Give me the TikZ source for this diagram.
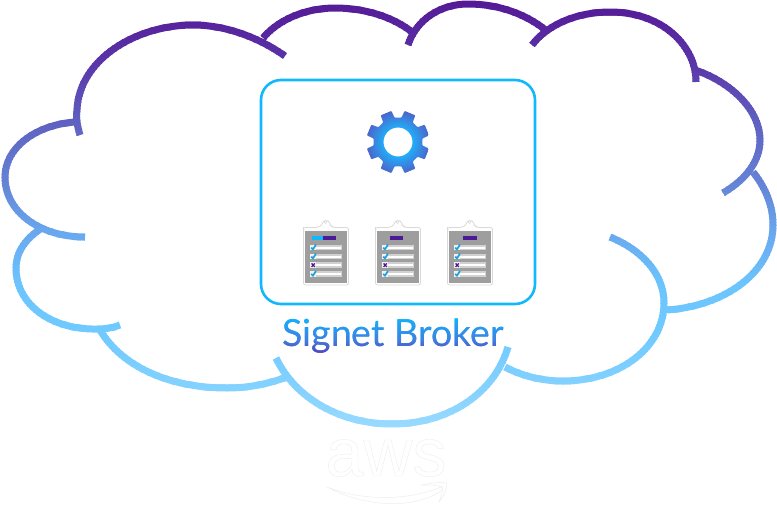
\documentclass[tikz,border=0pt]{standalone}
\usepackage{fontspec}
\setmainfont{Lato}
\newfontfamily\awsfont{Liberation Sans}
\definecolor{cA}{HTML}{551A96}
\definecolor{cB}{HTML}{5A34A8}
\definecolor{cC}{HTML}{5F60C0}
\definecolor{cD}{HTML}{6482D5}
\definecolor{cE}{HTML}{69A8EE}
\definecolor{cF}{HTML}{6CC4FD}
\definecolor{cG}{HTML}{6FCAFF}
\definecolor{cH}{HTML}{85D2FF}
\definecolor{cI}{HTML}{9DDCFF}
\definecolor{boxblue}{HTML}{12B8FB}
\definecolor{txtTop}{HTML}{10B4FF}
\definecolor{txtMid}{HTML}{3E7FE0}
\definecolor{txtBot}{HTML}{5A2FAE}
\definecolor{purp}{HTML}{4B1A96}
\definecolor{chk}{HTML}{1BA3DF}
\definecolor{gearIn}{HTML}{22ACF8}
\definecolor{gearOut}{HTML}{4A68CC}
\pgfdeclareradialshading{gearshade}{\pgfpoint{0bp}{0bp}}{color(0bp)=(gearIn); color(11.5bp)=(gearIn); color(25bp)=(gearOut); color(50bp)=(gearOut)}
\tikzset{
  arcline/.style={line width=7pt,line cap=butt,draw=bandc},
  brokerbox/.style={draw=boxblue,line width=2.6pt,rounded corners=20pt},
  awsedge/.style={fill=white,draw=black!7,line width=.5pt},
  clipedge/.style={draw=black!15,line width=.8pt,fill=white},
  brokerlabel/.style={inner sep=0pt,font=\fontsize{37.4}{42}\selectfont,text=bandc}
}
\newcommand{\cloudarcs}{%
  \draw[arcline] (80,135) .. controls (77,125) and (76,118) .. (77,110) .. controls (79,60) and (135,25) .. (193,25) .. controls (225,25) and (258,37) .. (285,56);
  \draw[arcline] (75,122) .. controls (35,125) and (5,148) .. (5,177) .. controls (5,212) and (40,237) .. (85,237);
  \draw[arcline] (42,228) .. controls (26,238) and (16,252) .. (16,268) .. controls (16,305) and (52,330) .. (97,329) .. controls (105,329) and (113,328) .. (120,325);
  \draw[arcline] (100,330) .. controls (122,367) and (170,388) .. (227,388) .. controls (248,388) and (268,384) .. (287,377);
  \draw[arcline] (276,358) .. controls (295,398) and (340,424) .. (392,424) .. controls (450,424) and (495,392) .. (508,347);
  \draw[arcline] (505,367) .. controls (522,376) and (542,381) .. (563,381) .. controls (620,381) and (664,347) .. (664,303) .. controls (664,274) and (642,250) .. (610,237);
  \draw[arcline] (667,310) .. controls (725,306) and (773,272) .. (773,225) .. controls (773,205) and (765,187) .. (753,172);
  \draw[arcline] (695,70) .. controls (731,82) and (760,110) .. (760,140) .. controls (760,162) and (745,180) .. (723,193);
  \draw[arcline] (696,82) .. controls (696,75) and (695,70) .. (693,63) .. controls (682,32) and (650,12) .. (610,12) .. controls (578,12) and (548,24) .. (532,45);
  \draw[arcline] (408,45) .. controls (416,20) and (440,4) .. (468,4) .. controls (500,4) and (528,15) .. (548,32);
  \draw[arcline] (263,38) .. controls (278,20) and (305,8) .. (335,8) .. controls (365,8) and (393,17) .. (412,32);
}
\newcommand{\checkrow}[2]{%
  \fill[black!18] (6.5,#1-3) rectangle (38.7,#1+2.6);
  \fill[white] (13,#1-1.2) rectangle (38.2,#1+.9);
  \fill[black!5] (7,#1-3) rectangle (13,#1+2.6);
  #2
}
\newcommand{\tick}[1]{\draw[chk,line width=1.7pt] (8.2,#1) -- (10,#1+1.6) -- (13,#1-3.2);}
\newcommand{\cross}[1]{\draw[purp,line width=1.3pt] (8.6,#1-1.9) -- (11.8,#1+1.6) (8.6,#1+1.6) -- (11.8,#1-1.9);}
\newcommand{\clipboard}[2]{%
  \begin{scope}[shift={(#1,219)}]
    \path[clipedge] (.5,10) [rounded corners=2pt] -- (.5,66) -- (45.5,66) -- (45.5,8.5) -- (30,8.5)
       -- (27,6) [sharp corners] .. controls (26,0.5) and (19.5,0.5) .. (18.5,6) [rounded corners=2pt] -- (15,8.5) -- (.5,8.5) -- cycle;
    \draw[black!15,line width=.6pt] (22.5,3) circle (1.5pt);
    \fill[black!38] (2,12) rectangle (44,64);
    #2
    \checkrow{28.7}{\tick{28.7}}
    \checkrow{37.7}{\tick{37.7}}
    \checkrow{46.3}{\cross{46.3}}
    \checkrow{55}{\tick{55}}
  \end{scope}
}
\begin{document}
\begin{tikzpicture}[x=1pt,y=-1pt]
\useasboundingbox (0,0) rectangle (777,512);
% cloud with a vertical colour gradient
\foreach \ca/\cb/\ya/\nn in {cA/cB/0/20,cB/cC/60/20,cC/cD/120/20,cD/cE/180/17,cE/cF/231/17,cF/cG/282/16,cG/cH/330/20,cH/cI/390/14}{
  \foreach \kk in {1,...,\nn}{
    \pgfmathsetmacro{\yy}{\ya+3*(\kk-1)}
    \pgfmathtruncatemacro{\pct}{100*(\kk-1)/\nn}
    \colorlet{bandc}{\cb!\pct!\ca}
    \begin{scope}
      \clip (-5,\yy) rectangle (782,\yy+3.6);
      \cloudarcs
    \end{scope}
  }
}
% broker box
\draw[brokerbox] (261,80) rectangle (535,304);
% gear
\begin{scope}[shift={(398,142)}]
  \path[shading=gearshade,even odd rule,rounded corners=.8pt]
    (0:24.5)
    \foreach \a in {22.5,67.5,...,337.5}{ -- (\a-14.5:24.5) -- (\a-10.5:31.8) -- (\a+10.5:31.8) -- (\a+14.5:24.5) }
    -- cycle (0,0) circle (14.5pt);
\end{scope}
% clipboards
\clipboard{303}{\fill[boxblue] (9,17.2) rectangle (19.5,21); \fill[purp] (19.5,17.2) rectangle (33,21);}
\clipboard{375}{\fill[purp] (15,17.2) rectangle (28,21);}
\clipboard{447}{\fill[purp] (16,17.2) rectangle (30,21);}
% label with a vertical colour gradient
\foreach \yy in {316,317,...,358}{
  \pgfmathtruncatemacro{\pct}{\yy<340 ? 100*(\yy-316)/24 : 100-100*(\yy-340)/18}
  \ifnum\yy<340
    \colorlet{bandc}{txtMid!\pct!txtTop}
  \else
    \colorlet{bandc}{txtMid!\pct!txtBot}
  \fi
  \begin{scope}
    \clip (270,\yy) rectangle (520,\yy+1.4);
    \node[brokerlabel] (broker) at (393,336) {Signet Broker};
  \end{scope}
}
% aws logo
\node[inner sep=0pt,text=white] (awslogo) at (386,458) {\special{pdf:code 2 Tr 0.4 w 0.93 G}\awsfont\fontsize{68}{70}\selectfont aws\special{pdf:code 0 Tr}};
\path[awsedge] (327,487) .. controls (360,505) and (410,512) .. (443,490) -- (441,487)
  .. controls (410,500) and (365,502) .. (327,487) -- cycle;
\path[awsedge] (422,485) .. controls (430,483) and (440,482) .. (447,483)
  .. controls (447,490) and (443,498) .. (439,502) .. controls (441,496) and (443,490) .. (443,487)
  .. controls (437,485) and (430,485) .. (422,485) -- cycle;
\end{tikzpicture}
\end{document}
